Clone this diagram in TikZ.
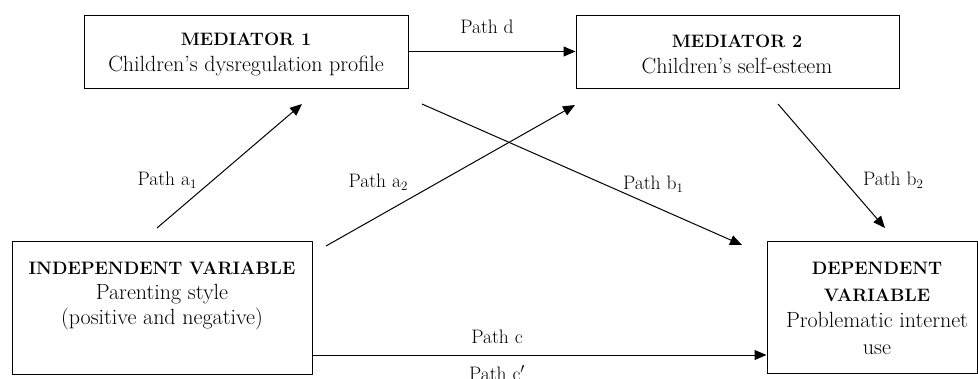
\documentclass[tikz,border=0pt]{standalone}
\usetikzlibrary{arrows.meta}
\newcommand\bhead[1]{{\fontsize{18}{25}\selectfont\bfseries #1}}
\newcommand\sbs[1]{\raisebox{-0.3ex}{\fontsize{13}{13}\selectfont #1}}
\begin{document}
\begin{tikzpicture}[x=1pt,y=-1pt,
  box/.style={draw, line width=1pt, inner sep=0pt, minimum width=#1},
  txt/.style={font=\fontsize{22}{26}\selectfont, align=center, inner sep=0pt},
  lbl/.style={font=\fontsize{19.5}{25}\selectfont, inner sep=0pt},
  arr/.style={line width=1pt, -{Triangle[length=12pt,width=10pt]}}]
\useasboundingbox (0,0) rectangle (978,378);
% boxes
\node[box=324pt, minimum height=73pt] (m1) at (246,51.5) {};
\node[box=323pt, minimum height=73pt] (m2) at (737.5,51.5) {};
\node[box=300pt, minimum height=133pt] (iv) at (162,307.5) {};
\node[box=210pt, minimum height=132pt] (dv) at (872,307) {};
% texts
\node[txt] (m1t) at (246,54) {\bhead{MEDIATOR 1}\\Children's dysregulation profile};
\node[txt] (m2t) at (737,54) {\bhead{MEDIATOR 2}\\Children's self-esteem};
\node[txt, font=\fontsize{22}{25}\selectfont] (ivt) at (162,296) {\bhead{INDEPENDENT VARIABLE}\\Parenting style\\(positive and negative)};
\node[txt, font=\fontsize{22}{26.7}\selectfont] (dvt) at (877,308.5) {\bhead{DEPENDENT}\\\bhead{VARIABLE}\\Problematic internet\\use};
% connector end points
\coordinate (a1s) at (157,228);
\coordinate (a1e) at (302,104);
\coordinate (a2s) at (326,246);
\coordinate (a2e) at (575,105);
\coordinate (b1s) at (422,104);
\coordinate (b1e) at (742,245);
\coordinate (b2s) at (778,104);
\coordinate (b2e) at (885,228);
% connectors
\draw[arr] (m1.east |- 0,51.5) -- (m2.west |- 0,51.5);
\draw[arr] (a1s) -- (a1e);
\draw[arr] (a2s) -- (a2e);
\draw[arr] (b1s) -- (b1e);
\draw[arr] (b2s) -- (b2e);
\draw[arr] (iv.east |- 0,355) -- (dv.west |- 0,355);
% labels
\node[lbl] (ld) at (487,27) {Path d};
\node[lbl] (la1) at (167,180) {Path a\sbs{1}};
\node[lbl] (la2) at (378,182) {Path a\sbs{2}};
\node[lbl] (lb1) at (653,184) {Path b\sbs{1}};
\node[lbl] (lb2) at (893,180) {Path b\sbs{2}};
\node[lbl] (lc) at (497,337) {Path c};
\node[lbl] (lc2) at (497,373) {Path c$'$};
\end{tikzpicture}
\end{document}
